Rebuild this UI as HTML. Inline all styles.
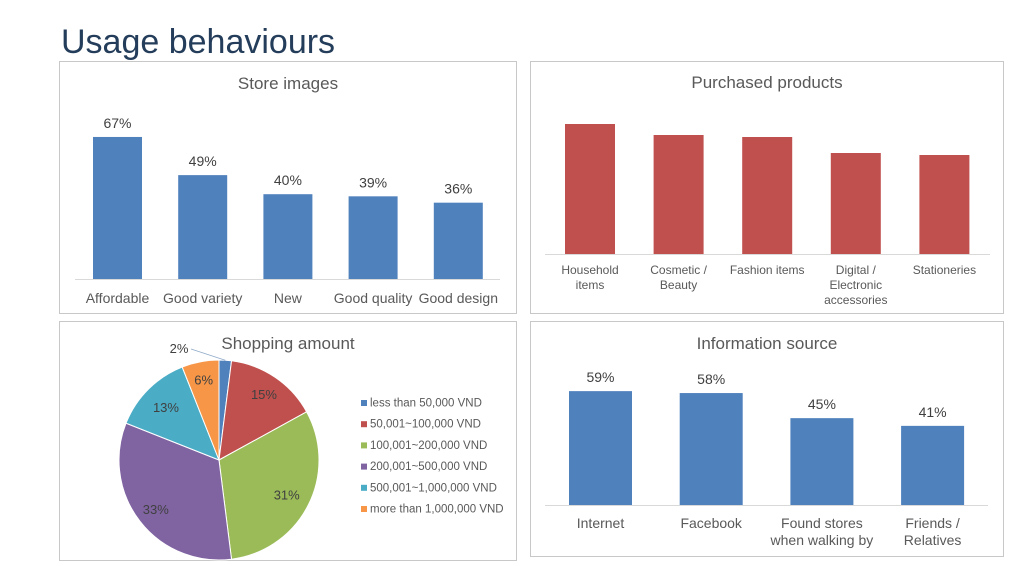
<!DOCTYPE html>
<html><head><meta charset="utf-8">
<style>
html,body{margin:0;padding:0;background:#fff;}
svg{display:block;font-family:"Liberation Sans",Arial,sans-serif;}
</style></head>
<body>
<svg id="root" width="1024" height="566" viewBox="0 0 1024 566">
  <text x="61" y="53" font-size="34" fill="#243d5a">Usage behaviours</text>
  <rect x="59.5" y="61.5" width="457" height="252" fill="#fff" stroke="#c8c8c8"/>
  <rect x="530.5" y="61.5" width="473" height="252" fill="#fff" stroke="#c8c8c8"/>
  <rect x="59.5" y="321.5" width="457" height="239" fill="#fff" stroke="#c8c8c8"/>
  <rect x="530.5" y="321.5" width="473" height="235" fill="#fff" stroke="#c8c8c8"/>
  <text x="288" y="89" font-size="17" fill="#595959" text-anchor="middle">Store images</text>
  <text x="767" y="88" font-size="17" fill="#595959" text-anchor="middle">Purchased products</text>
  <text x="288" y="349" font-size="17" fill="#595959" text-anchor="middle">Shopping amount</text>
  <text x="767" y="349" font-size="17" fill="#595959" text-anchor="middle">Information source</text>
  <g id="c1"></g><g id="c2"></g><g id="c3"></g><g id="c4"></g>
</svg>
<script>
// Store images
const storeCats = ["Affordable","Good variety","New","Good quality","Good design"];
const storeVals = [67,49,40,39,36];
const storeLabels = ["67%","49%","40%","39%","36%"];
// Purchased products (no printed values; relative heights)
const prodCats = [["Household","items"],["Cosmetic /","Beauty"],["Fashion items"],["Digital /","Electronic","accessories"],["Stationeries"]];
const prodVals = [52,47.6,46.8,40.4,39.6];
// Information source
const infoCats = [["Internet"],["Facebook"],["Found stores","when walking by"],["Friends /","Relatives"]];
const infoVals = [59,58,45,41];
const infoLabels = ["59%","58%","45%","41%"];
// Shopping amount
const pieCats = ["less than 50,000 VND","50,001~100,000 VND","100,001~200,000 VND","200,001~500,000 VND","500,001~1,000,000 VND","more than 1,000,000 VND"];
const pieVals = [2,15,31,33,13,6];
const pieLabels = ["2%","15%","31%","33%","13%","6%"];
const pieColors = ["#4f81bd","#c0504d","#9bbb59","#8064a2","#4bacc6","#f79646"];

const NS="http://www.w3.org/2000/svg";
function mk(tag,attrs,parent){const e=document.createElementNS(NS,tag);for(const k in attrs)e.setAttribute(k,attrs[k]);parent.appendChild(e);return e;}

function barChart(g,opt){
  const y=v=>opt.base-v*opt.scale;
  const x=i=>opt.x0+i*opt.step;
  const ax=mk('line',{x1:opt.ax0,x2:opt.ax1,y1:opt.base+0.5,y2:opt.base+0.5,stroke:'#d9d9d9'},g);
  
  
  opt.vals.forEach((v,i)=>{
    const r=mk('rect',{x:x(i),y:y(v),width:opt.bw,height:opt.base-y(v),fill:opt.color},g);
    
    
    if(opt.labels){
      const t=mk('text',{x:x(i)+opt.bw/2,y:y(v)-9,'font-size':14,fill:'#404040','text-anchor':'middle'},g);
      t.textContent=opt.labels[i];
      
      
    }
    const lines=Array.isArray(opt.cats[i])?opt.cats[i]:[opt.cats[i]];
    lines.forEach((ln,j)=>{
      const t=mk('text',{x:x(i)+opt.bw/2,y:opt.base+opt.ly+j*opt.lh,'font-size':opt.fs,fill:'#595959','text-anchor':'middle'},g);
      t.textContent=ln;
      
      
    });
  });
}
barChart(document.getElementById('c1'),{name:'store-images',vals:storeVals,labels:storeLabels,cats:storeCats,base:279,scale:2.12,x0:93,step:85.2,bw:49,color:'#4f81bd',ax0:75,ax1:500,ly:24,lh:16,fs:14});
barChart(document.getElementById('c2'),{name:'purchased-products',vals:prodVals,labels:null,cats:prodCats,base:254,scale:2.5,x0:565,step:88.6,bw:50,color:'#c0504d',ax0:545,ax1:990,ly:20,lh:15,fs:12});
barChart(document.getElementById('c4'),{name:'information-source',vals:infoVals,labels:infoLabels,cats:infoCats,base:505,scale:1.93,x0:569,step:110.7,bw:63,color:'#4f81bd',ax0:545,ax1:988,ly:23,lh:17,fs:14});

// Pie
(function(){
  const g=document.getElementById('c3');
  const cx=219,cy=460,r=100;
  const total=pieVals.reduce((a,b)=>a+b,0);
  let a0=-Math.PI/2;
  const lblR=[0,0.8,0.76,0.8,0.75,0.82];
  pieVals.forEach((v,i)=>{
    const a1=a0+v/total*2*Math.PI;
    const large=(a1-a0)>Math.PI?1:0;
    const p=mk('path',{d:`M${cx},${cy}L${cx+r*Math.cos(a0)},${cy+r*Math.sin(a0)}A${r},${r} 0 ${large} 1 ${cx+r*Math.cos(a1)},${cy+r*Math.sin(a1)}Z`,fill:pieColors[i],stroke:'#fff','stroke-width':1},g);
    
    
    const am=(a0+a1)/2;
    let lx,ly;
    if(i===0){
      lx=179;ly=353;
      const l=mk('polyline',{points:`${lx+12},${ly-4} ${cx+r*Math.cos(am)},${cy+r*Math.sin(am)}`,fill:'none',stroke:'#8ea9c8','stroke-width':0.8},g);
      
      
    } else {
      lx=cx+r*lblR[i]*Math.cos(am);ly=cy+r*lblR[i]*Math.sin(am)+5;
    }
    const t=mk('text',{x:lx,y:ly,'font-size':13,fill:'#404040','text-anchor':'middle'},g);
    t.textContent=pieLabels[i];
    
    
    a0=a1;
  });
  pieCats.forEach((c,i)=>{
    const yy=405+i*21.2;
    const s=mk('rect',{x:361,y:yy-5,width:6,height:6,fill:pieColors[i]},g);
    
    
    const t=mk('text',{x:370,y:yy+1.5,'font-size':11.5,fill:'#595959'},g);
    t.textContent=c;
    
    
  });
})();
</script>
</body></html>
